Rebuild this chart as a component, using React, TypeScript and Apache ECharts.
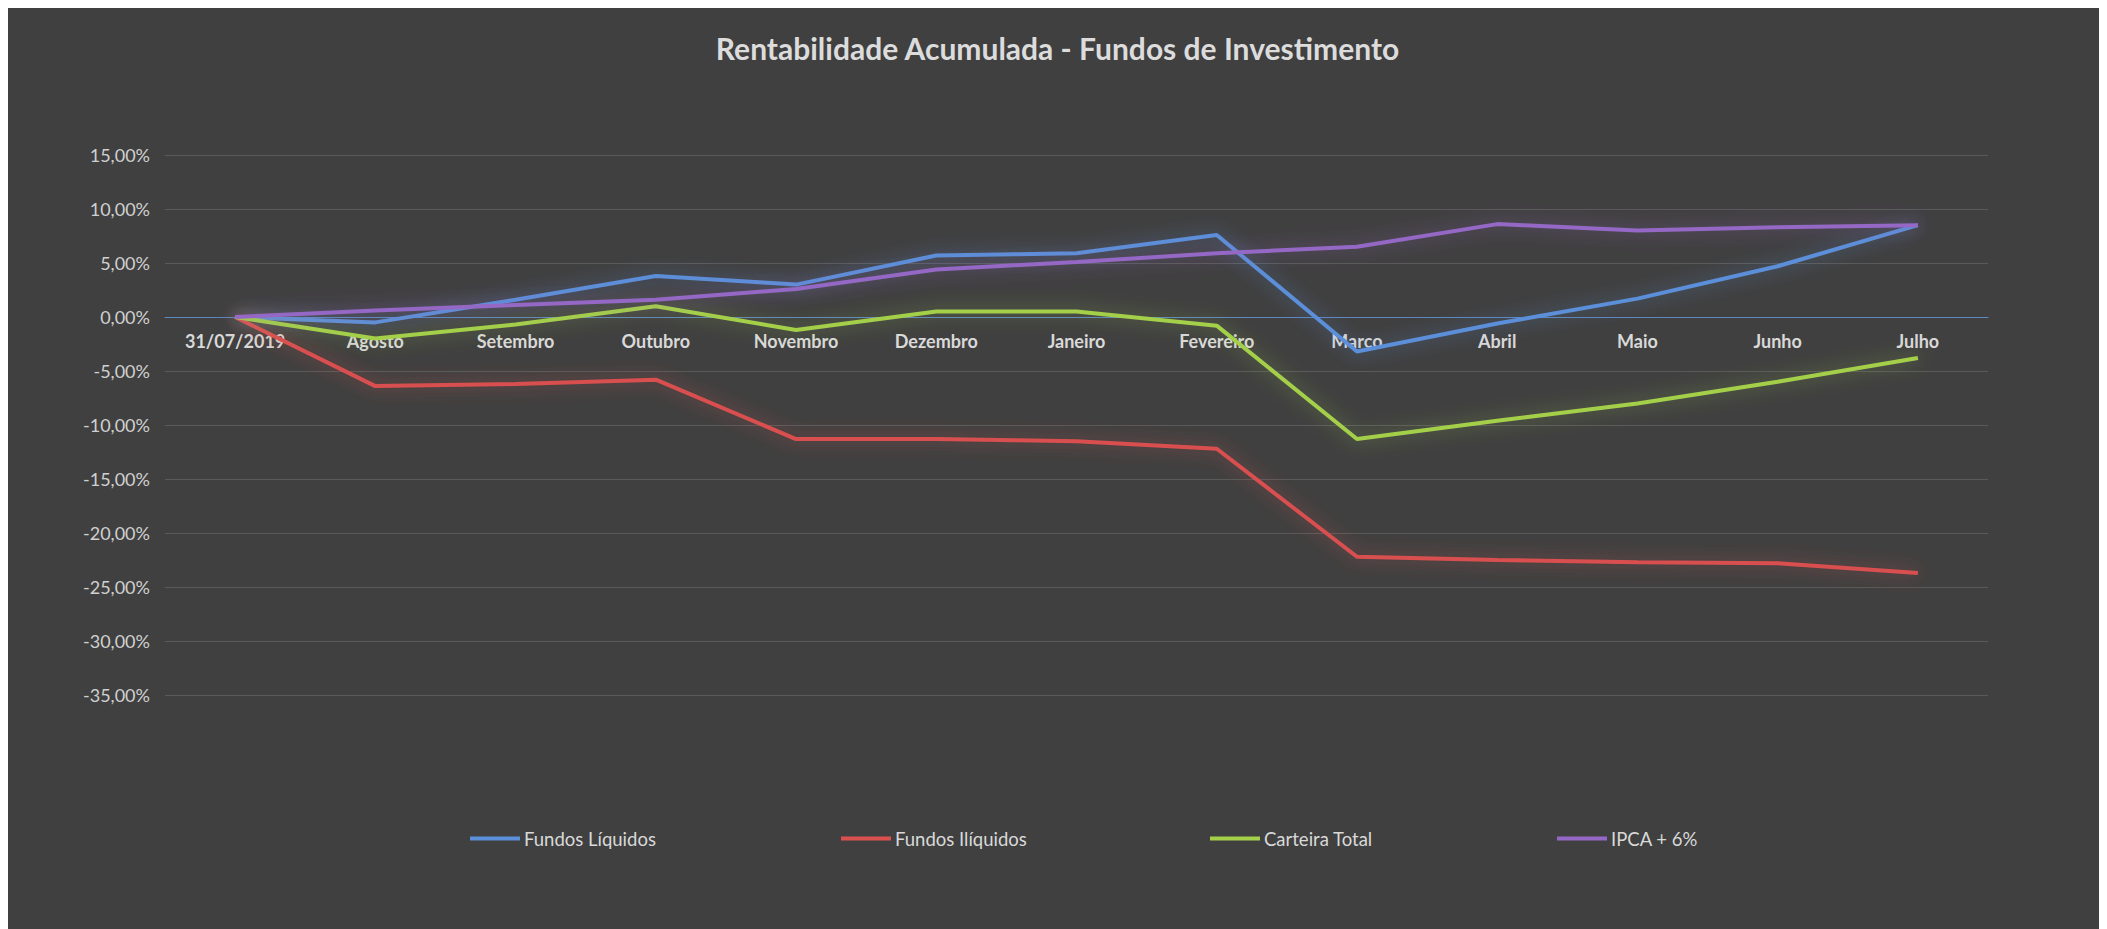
import React, { useEffect, useRef } from "react";
import * as echarts from "echarts";

const categories = ["31/07/2019", "Agosto", "Setembro", "Outubro", "Novembro", "Dezembro", "Janeiro", "Fevereiro", "Março", "Abril", "Maio", "Junho", "Julho"];
const fundosLiquidos = [0, -0.5, 1.6, 3.8, 3.0, 5.7, 5.9, 7.6, -3.2, -0.6, 1.7, 4.7, 8.5];
const fundosIliquidos = [0, -6.4, -6.2, -5.8, -11.3, -11.3, -11.5, -12.2, -22.2, -22.5, -22.7, -22.8, -23.7];
const carteiraTotal = [0, -2.0, -0.7, 1.0, -1.2, 0.5, 0.5, -0.8, -11.3, -9.6, -8.0, -6.0, -3.8];
const ipca6 = [0, 0.6, 1.1, 1.6, 2.6, 4.4, 5.1, 5.9, 6.5, 8.6, 8.0, 8.3, 8.5];

const seriesNames = ["Fundos Líquidos", "Fundos Ilíquidos", "Carteira Total", "IPCA + 6%"];
const seriesData = [fundosLiquidos, fundosIliquidos, carteiraTotal, ipca6];
const seriesColors = ["#5b8fd9", "#d9504f", "#a4d04a", "#9567c6"];
const glowColors = ["rgba(91,143,217,0.6)", "rgba(217,80,79,0.6)", "rgba(164,208,74,0.5)", "rgba(149,103,198,0.6)"];
const legendLefts = [457, 828, 1197, 1544];

const FONT = "Lato, 'Open Sans', sans-serif";
const Y_MIN = -35;
const Y_MAX = 15;
const GRID_TOP = 147;
const GRID_BOTTOM = 234;
const CHART_H = 921;

export default function App() {
  const ref = useRef<HTMLDivElement>(null);
  useEffect(() => {
    document.body.style.overflow = "hidden";
    if (!ref.current) return;
    const chart = echarts.init(ref.current, undefined, { renderer: "svg" });
    const gridH = CHART_H - GRID_TOP - GRID_BOTTOM;
    const zeroOffset = -Math.round((gridH * (0 - Y_MIN)) / (Y_MAX - Y_MIN));
    chart.setOption({
      animation: false,
      backgroundColor: "#404040",
      textStyle: { fontFamily: FONT },
      title: {
        text: "Rentabilidade Acumulada - Fundos de Investimento",
        left: "center",
        top: 20,
        textStyle: { color: "#dcdcdc", fontSize: 30, fontWeight: "bold", fontFamily: FONT },
      },
      legend: seriesNames.map((n, i) => ({
        data: [n],
        left: legendLefts[i],
        top: 816,
        icon: "rect",
        itemWidth: 50,
        itemHeight: 4,
        itemGap: 6,
        textStyle: { color: "#d9d9d9", fontSize: 18.5, fontFamily: FONT, padding: [0, 0, 0, -1] },
      })),
      grid: { left: 157, right: 119, top: GRID_TOP, bottom: GRID_BOTTOM },
      xAxis: {
        type: "category",
        data: categories,
        boundaryGap: true,
        offset: zeroOffset,
        axisLine: { onZero: false, lineStyle: { color: "#5d87bf", width: 1 } },
        axisTick: { show: false },
        axisLabel: { interval: 0, margin: 15, color: "#d9d9d9", fontSize: 18, fontWeight: "bold", fontFamily: FONT },
      },
      yAxis: {
        type: "value",
        min: Y_MIN,
        max: Y_MAX,
        interval: 5,
        axisLine: { show: false },
        axisTick: { show: false },
        splitLine: { lineStyle: { color: "#5a5a5a", width: 1 } },
        axisLabel: {
          margin: 15,
          color: "#d0d0d0",
          fontSize: 18,
          fontFamily: FONT,
          formatter: (v: number) => v.toFixed(2).replace(".", ",") + "%",
        },
      },
      series: seriesNames.map((n, i) => ({
        name: n,
        type: "line",
        data: seriesData[i],
        symbol: "none",
        color: seriesColors[i],
        lineStyle: { width: 4, color: seriesColors[i], shadowBlur: 18, shadowColor: glowColors[i] },
      })),
    });
    return () => chart.dispose();
  }, []);
  return <div ref={ref} style={{ width: 2099, height: CHART_H }} />;
}
